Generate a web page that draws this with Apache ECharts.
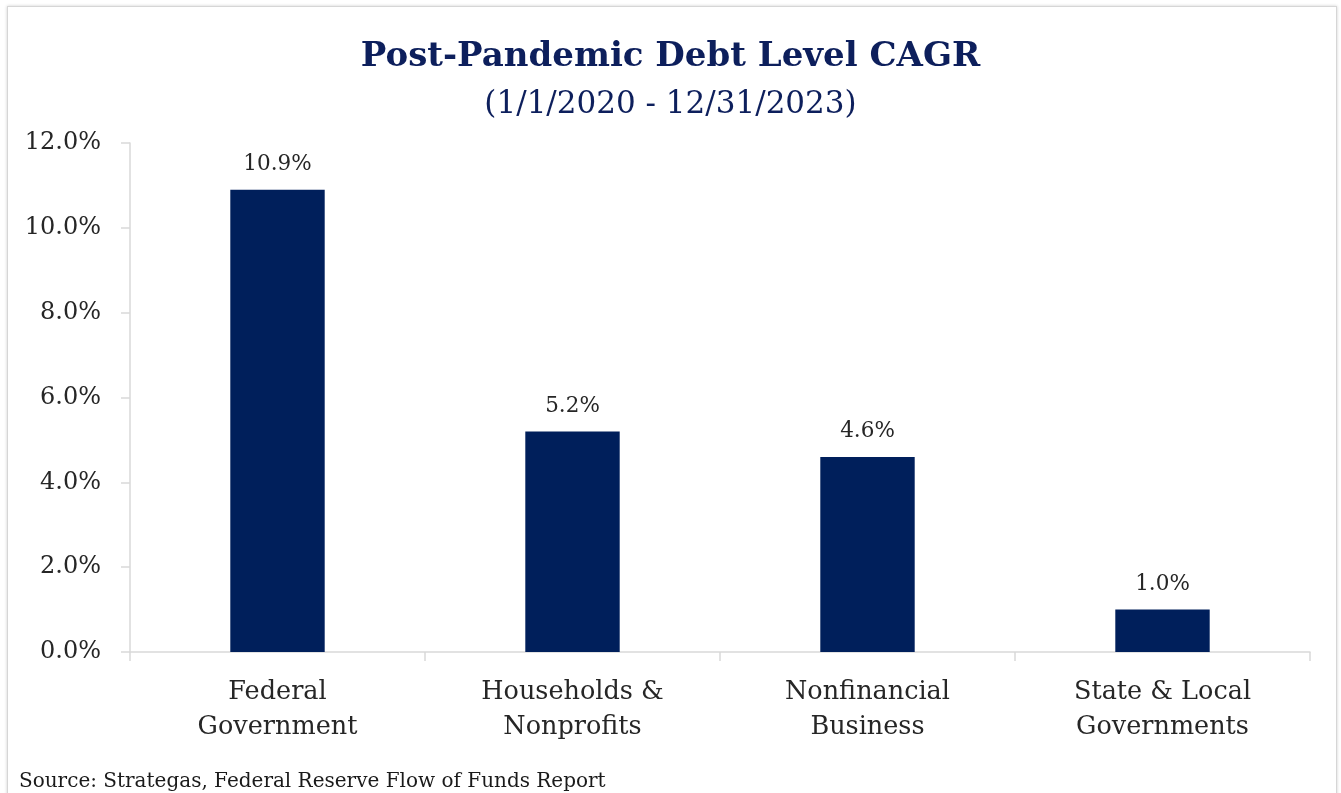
<!DOCTYPE html>
<html><head><meta charset="utf-8">
<script src="https://cdn.jsdelivr.net/npm/echarts@6/dist/echarts.min.js"></script>
<style>
html,body{margin:0;padding:0;background:#fff;}
#frame{position:absolute;left:7px;top:6px;width:1328px;height:800px;border:1px solid #d6d6d6;box-shadow:0 0 3px #cfcfcf;}
#c{position:absolute;left:0;top:0;width:1341px;height:793px;}
</style></head>
<body>
<div id="frame"></div>
<div id="c"></div>
<script>
const categories = ['Federal\nGovernment', 'Households &\nNonprofits', 'Nonfinancial\nBusiness', 'State & Local\nGovernments'];
const values = [10.9, 5.2, 4.6, 1.0];
const titleText = 'Post-Pandemic Debt Level CAGR';
const subtitleText = '(1/1/2020 - 12/31/2023)';
const sourceText = 'Source: Strategas, Federal Reserve Flow of Funds Report';

const serif = '"DejaVu Serif", "Liberation Serif", serif';
const chart = echarts.init(document.getElementById('c'));
chart.setOption({
  animation: false,
  title: [
    {text: titleText, left: 'center', top: 35, textStyle: {fontFamily: serif, fontWeight: 'bold', fontSize: 34, color: '#0d1f5c'}},
    {text: subtitleText, left: 'center', top: 84, textStyle: {fontFamily: serif, fontWeight: 'normal', fontSize: 31, color: '#0d1f5c'}},
    {text: sourceText, left: 14, top: 767, textStyle: {fontFamily: serif, fontWeight: 'normal', fontSize: 20, color: '#1a1a1a'}}
  ],
  grid: {left: 130, right: 31, top: 143, bottom: 141},
  xAxis: {
    type: 'category', data: categories,
    axisLine: {lineStyle: {color: '#d9d9d9', width: 1.5}},
    axisTick: {show: true, length: 9, lineStyle: {color: '#d9d9d9', width: 1.5}},
    axisLabel: {fontFamily: serif, fontSize: 25.5, color: '#262626', margin: 23, lineHeight: 35}
  },
  yAxis: {
    type: 'value', min: 0, max: 12, interval: 2,
    axisLine: {show: true, lineStyle: {color: '#d9d9d9', width: 1.5}},
    axisTick: {show: true, length: 9, lineStyle: {color: '#d9d9d9', width: 1.5}},
    splitLine: {show: false},
    axisLabel: {fontFamily: serif, fontSize: 24, color: '#262626', margin: 29, formatter: v => v.toFixed(1) + '%'}
  },
  series: [{
    type: 'bar', data: values, barWidth: '32%',
    itemStyle: {color: '#001f5b'},
    label: {show: true, position: 'top', distance: 14, fontFamily: serif, fontSize: 21.5, color: '#262626', formatter: p => p.value.toFixed(1) + '%'}
  }]
});
</script>
</body></html>
